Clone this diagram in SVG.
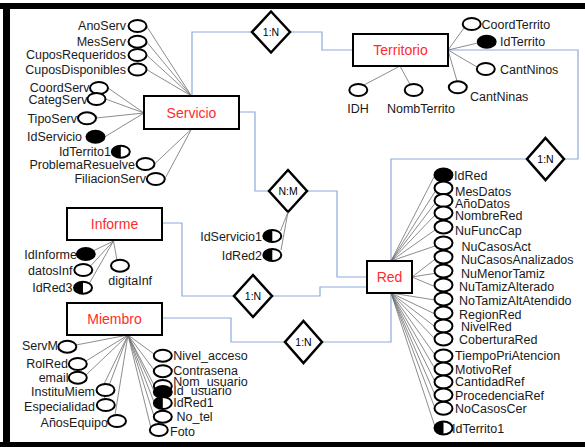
<svg xmlns="http://www.w3.org/2000/svg" xmlns:xlink="http://www.w3.org/1999/xlink" width="585" height="447" viewBox="0 0 585 447">
<style>
.ent{fill:#fff;stroke:#000;stroke-width:2}
.et{font-family:"Liberation Sans",Arial,sans-serif;font-size:14px;fill:#ff2b2b;text-anchor:middle}
.dia{fill:#fff;stroke:#000;stroke-width:2.5;stroke-linejoin:miter}
.dt{font-family:"Liberation Sans",Arial,sans-serif;font-size:10.5px;fill:#000;text-anchor:middle}
.conn{fill:none;stroke:#8eaadb;stroke-width:1.2}
.al{stroke:#6e6e6e;stroke-width:0.8;fill:none}
.at{font-family:"Liberation Sans",Arial,sans-serif;font-size:12.5px;fill:#1a1a1a}
.e{text-anchor:end}
.m{text-anchor:middle}
.ov{fill:#fff;stroke:#000;stroke-width:2}
.kv{fill:#000;stroke:#000;stroke-width:2}
</style>
<defs>
<g id="a"><ellipse class="ov" cx="0" cy="0" rx="9" ry="6"/></g>
<g id="k"><ellipse class="kv" cx="0" cy="0" rx="9" ry="6"/></g>
<g id="h"><ellipse class="ov" cx="0" cy="0" rx="9" ry="6"/><path d="M0,-6 A9,6 0 0 0 0,6 Z" fill="#000"/></g>
<g id="ra"><ellipse class="ov" cx="0" cy="0" rx="9" ry="6.5"/></g>
<g id="rk"><ellipse class="kv" cx="0" cy="0" rx="9" ry="6.5"/></g>
<g id="rh"><ellipse class="ov" cx="0" cy="0" rx="9" ry="6.5"/><path d="M0,-6.5 A9,6.5 0 0 0 0,6.5 Z" fill="#000"/></g>
</defs>
<rect width="585" height="447" fill="#fff"/>
<!-- frame -->
<rect x="0" y="3" width="585" height="6" fill="#000"/>
<rect x="3" y="3" width="7" height="444" fill="#000"/>
<rect x="0" y="442" width="585" height="5" fill="#000"/>

<g id="connectors">
<path class="conn" d="M192,96 V32 H252"/>
<path class="conn" d="M290,32 H322 V50 H353"/>
<path class="conn" d="M239,112 H255 V191 H269"/>
<path class="conn" d="M307,191 H337 V277 H367"/>
<path class="conn" d="M162,223 H182 V296 H234"/>
<path class="conn" d="M272,296 H320 V287 H367"/>
<path class="conn" d="M162,318 H231 V342 H285"/>
<path class="conn" d="M322,342 H391 V293"/>
<path class="conn" d="M391,261 V159 H527"/>
<path class="conn" d="M564,159 H578 V50 H448"/>
</g>

<g id="rel-servicio-territorio">
<polygon class="dia" points="271,11.5 290,32 271,52.5 252,32"/>
<text class="dt" x="271" y="35.5">1:N</text>
</g>
<g id="rel-servicio-red">
<polygon class="dia" points="288,170 307,191 288,212 269,191"/>
<text class="dt" x="288" y="194.5">N:M</text>
<path class="al" d="M288,212 L280.5,231 M288,212 L281,250"/>
<text class="at e" x="262" y="240.5">IdServicio1</text>
<use href="#h" x="272.3" y="236"/>
<text class="at e" x="262" y="259.5">IdRed2</text>
<use href="#h" x="272.3" y="255"/>
</g>
<g id="rel-informe-red">
<polygon class="dia" points="253,275 272,296 253,317 234,296"/>
<text class="dt" x="253" y="299.5">1:N</text>
</g>
<g id="rel-miembro-red">
<polygon class="dia" points="303.5,321 322,342 303.5,363 285,342"/>
<text class="dt" x="303.5" y="345.5">1:N</text>
</g>
<g id="rel-territorio-red">
<polygon class="dia" points="545.5,138 564,159 545.5,180 527,159"/>
<text class="dt" x="545.5" y="162.5">1:N</text>
</g>

<g id="servicio">
<path class="al" d="M191.5,96 L146.5,26 M191.5,96 L146.5,41.7 M191.5,96 L146.5,55 M191.5,96 L146.5,69.5 M144,113 L108,88 M144,113 L105.5,99 M144,113 L96,118 M144,113 L104.5,137 M191.5,129 L154.5,164 M191.5,129 L164.8,179"/>
<rect class="ent" x="144" y="96" width="95" height="33"/>
<text class="et" x="191.5" y="117.5">Servicio</text>
<text class="at e" x="126" y="30.2">AnoServ</text><use href="#a" x="137.5" y="26"/>
<text class="at e" x="126" y="46.2">MesServ</text><use href="#a" x="137.5" y="41.7"/>
<text class="at e" x="126" y="58.8">CuposRequeridos</text><use href="#a" x="137.5" y="55"/>
<text class="at e" x="126" y="73.8">CuposDisponibles</text><use href="#a" x="137.5" y="69.5"/>
<text class="at e" x="89.5" y="92">CoordServ</text><use href="#a" x="99" y="88"/>
<text class="at e" x="87.5" y="104">CategServ</text><use href="#a" x="96.5" y="99"/>
<text class="at e" x="77" y="122.8">TipoServ</text><use href="#a" x="87" y="118.3"/>
<text class="at e" x="82" y="141.2">IdServicio</text><use href="#k" x="95.5" y="136.7"/>
<text class="at e" x="111" y="156.2">IdTerrito1</text><use href="#h" x="120.8" y="151.7"/>
<text class="at e" x="135" y="169">ProblemaResuelve</text><use href="#a" x="145.5" y="164"/>
<text class="at e" x="146" y="183">FiliacionServ</text><use href="#a" x="155.8" y="179"/>
</g>

<g id="territorio">
<path class="al" d="M448,50 L464,28 M448,50 L477.7,43 M448,50 L477,67 M448,50 L457,81 M400,66 L364,85 M400,66 L410,84.5"/>
<rect class="ent" x="353" y="34" width="95" height="32"/>
<text class="et" x="400.5" y="55">Territorio</text>
<use href="#a" x="471.7" y="24"/><text class="at" x="481.5" y="28.5">CoordTerrito</text>
<use href="#k" x="486.7" y="41.7"/><text class="at" x="500" y="46.2">IdTerrito</text>
<use href="#a" x="485.8" y="69"/><text class="at" x="500" y="73.5">CantNinos</text>
<use href="#a" x="457.8" y="87.3"/><text class="at" x="470" y="101.2">CantNinas</text>
<use href="#a" x="413.7" y="90"/><text class="at m" x="421" y="112.8">NombTerrito</text>
<use href="#a" x="358.3" y="90"/><text class="at m" x="358" y="112.8">IDH</text>
</g>

<g id="red">
<path class="al" d="M391,261 L435,175 M391,261 L435,191.7 M391,261 L435,203.3 M391,261 L435,215 M391,261 L435,230 M391,261 L435,246 M412,277 L435,259.3 M412,277 L435,273.3 M412,277 L435,286.7 M391,293 L435,300 M391,293 L435,314 M391,293 L435,326.7 M391,293 L435,339 M391,293 L435,355 M391,293 L435,369 M391,293 L435,381.7 M391,293 L435,395 M391,293 L435,408.3 M391,293 L435,426.7"/>
<rect class="ent" x="367" y="261" width="45" height="32"/>
<text class="et" x="389.5" y="282">Red</text>
<use href="#rk" x="443.5" y="175"/>
<use href="#ra" x="443.5" y="188"/>
<use href="#ra" x="443.5" y="200.5"/>
<use href="#ra" x="443.5" y="213"/>
<use href="#ra" x="443.5" y="227"/>
<use href="#ra" x="443.5" y="243"/>
<use href="#ra" x="443.5" y="257"/>
<use href="#ra" x="443.5" y="271"/>
<use href="#ra" x="443.5" y="285"/>
<use href="#ra" x="443.5" y="299"/>
<use href="#ra" x="443.5" y="313"/>
<use href="#ra" x="443.5" y="326"/>
<use href="#ra" x="443.5" y="339"/>
<use href="#ra" x="443.5" y="356"/>
<use href="#ra" x="443.5" y="369"/>
<use href="#ra" x="443.5" y="382"/>
<use href="#ra" x="443.5" y="395"/>
<use href="#ra" x="443.5" y="408.3"/>
<use href="#rh" x="443.5" y="428"/>
<text class="at" x="454" y="179.5">IdRed</text>
<text class="at" x="455" y="196">MesDatos</text>
<text class="at" x="455" y="207.8">AñoDatos</text>
<text class="at" x="455" y="219.5">NombreRed</text>
<text class="at" x="455" y="234.5">NuFuncCap</text>
<text class="at" x="461.5" y="250.5">NuCasosAct</text>
<text class="at" x="461" y="263.8">NuCasosAnalizados</text>
<text class="at" x="461" y="277.8">NuMenorTamiz</text>
<text class="at" x="459" y="291.2">NuTamizAlterado</text>
<text class="at" x="459" y="304.5">NoTamizAltAtendido</text>
<text class="at" x="459" y="318.5">RegionRed</text>
<text class="at" x="461" y="331.2">NivelRed</text>
<text class="at" x="459" y="343.5">CoberturaRed</text>
<text class="at" x="455" y="359.5">TiempoPriAtencion</text>
<text class="at" x="455" y="373.5">MotivoRef</text>
<text class="at" x="455" y="386.2">CantidadRef</text>
<text class="at" x="455" y="399.5">ProcedenciaRef</text>
<text class="at" x="455" y="412.8">NoCasosCer</text>
<text class="at" x="452" y="432.5">IdTerrito1</text>
</g>

<g id="informe">
<path class="al" d="M113.5,241 L93,251 M113.5,241 L90.5,266 M113.5,241 L89.5,283 M113.5,241 L117,260"/>
<rect class="ent" x="67" y="208" width="95" height="32"/>
<text class="et" x="114.5" y="229">Informe</text>
<text class="at e" x="77" y="258.5">IdInforme</text><use href="#k" x="85.8" y="254"/>
<text class="at e" x="72.5" y="274.5">datosInf</text><use href="#a" x="83.3" y="270"/>
<text class="at e" x="72.5" y="292.2">IdRed3</text><use href="#h" x="83" y="287.7"/>
<use href="#a" x="120" y="265.7"/><text class="at" x="108.3" y="284.5">digitaInf</text>
</g>

<g id="miembro">
<path class="al" d="M128,335 L76,345 M128,335 L86,361 M128,335 L86,375 M128,335 L104,384 M128,335 L104,399 M128,335 L115,415 M128,335 L154,354 M128,335 L154,370 M128,335 L154,385 M128,335 L154,391 M128,335 L154,402 M128,335 L154,416 M128,335 L151,428"/>
<rect class="ent" x="67" y="303" width="95" height="32"/>
<text class="et" x="114.5" y="324">Miembro</text>
<text class="at e" x="58" y="350">ServM</text><use href="#a" x="67.3" y="346.7"/>
<text class="at e" x="68" y="367.8">RolRed</text><use href="#a" x="77.8" y="364"/>
<text class="at e" x="68.5" y="382.2">email</text><use href="#a" x="77.8" y="377.7"/>
<text class="at e" x="95" y="396.2">InstituMiem</text><use href="#a" x="105.5" y="390"/>
<text class="at e" x="95" y="410.5">Especialidad</text><use href="#a" x="105.8" y="405"/>
<text class="at e" x="108" y="426.8">AñosEquipo</text><use href="#a" x="117" y="421"/>
<use href="#a" x="162.8" y="355.7"/>
<use href="#a" x="162.8" y="371.2"/>
<use href="#a" x="162.8" y="386"/>
<use href="#k" x="162.8" y="392"/>
<use href="#h" x="162.8" y="403"/>
<use href="#a" x="162.8" y="416.7"/>
<use href="#a" x="158.8" y="430"/>
<text class="at" x="173.3" y="360">Nivel_acceso</text>
<text class="at" x="173.3" y="375.3">Contrasena</text>
<text class="at" x="173.3" y="386">Nom_usuario</text>
<text class="at" x="173.3" y="395">Id_usuario</text>
<text class="at" x="173.3" y="407">IdRed1</text>
<text class="at" x="176.5" y="421.2">No_tel</text>
<text class="at" x="170" y="435.5">Foto</text>
</g>
</svg>
